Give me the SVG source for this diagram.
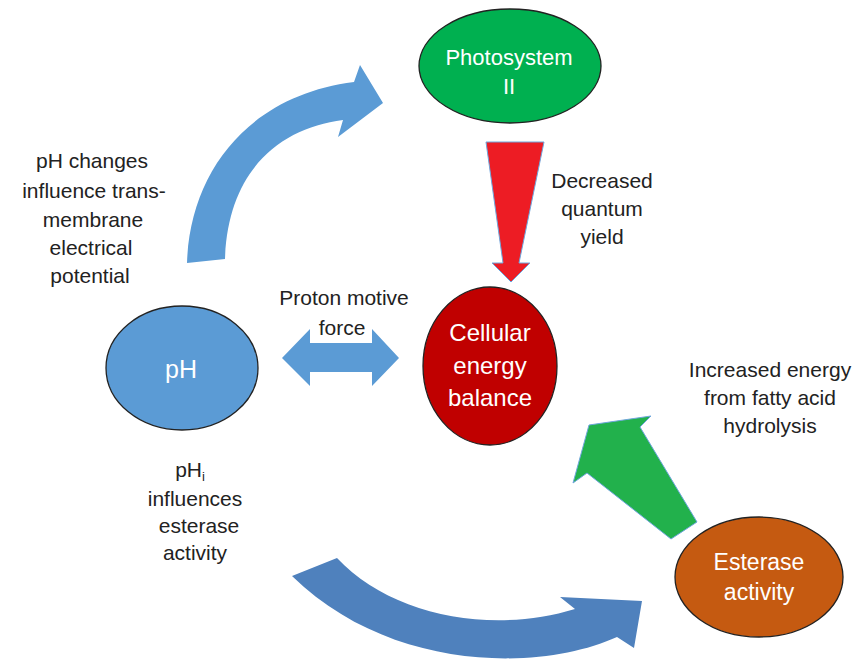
<svg xmlns="http://www.w3.org/2000/svg" width="862" height="659" viewBox="0 0 862 659">
<style>
.t{font-family:"Liberation Sans",Arial,sans-serif;font-size:21px;fill:#222;text-anchor:middle}
.w{font-family:"Liberation Sans",Arial,sans-serif;fill:#fff;text-anchor:middle}
.node{stroke:#222;stroke-width:1.3}
.edge{stroke:#6fa6dc;stroke-width:1}
</style>
<rect width="862" height="659" fill="#fff"/>
<g id="connectors">
<path id="arc-top" d="M187,263 C190,170 250,95 354,82 L360,65 L383,103 L338,137 L343,120 C280,128 228,170 225,259 Z" fill="#5b9bd5"/>
<path id="arc-bottom" d="M337,558 C390,615 490,635 575,609 L560,597 L642,601 L634,648 L617,637 C540,672 390,672 292,576 Z" fill="#4f81bd"/>
<polygon id="pmf-arrow" points="282,358 310,329 310,343 372,343 372,329 399,358 372,386 372,372 310,372 310,386" fill="#5b9bd5"/>
<polygon id="red-arrow" class="edge" points="486,142 544,142 519,263 530,263 511,282 492,263 503,263" fill="#ed1c24"/>
<polygon id="green-arrow" class="edge" points="589,425 651,416 640,427 697,522 671,539 587,473 573,483" fill="#22b14c"/>
</g>
<g id="photosystem">
<ellipse class="node" cx="510" cy="66" rx="91" ry="57" fill="#00b050"/>
<text class="w" x="509" y="65" font-size="22">Photosystem</text>
<text class="w" x="509" y="94" font-size="22">II</text>
</g>
<g id="cellular">
<ellipse class="node" cx="490" cy="366" rx="67" ry="79" fill="#c00000"/>
<text class="w" x="490" y="341" font-size="24">Cellular</text>
<text class="w" x="490" y="374" font-size="24">energy</text>
<text class="w" x="490" y="406" font-size="24">balance</text>
</g>
<g id="ph">
<ellipse class="node" cx="182" cy="368" rx="76" ry="62" fill="#5b9bd5"/>
<text class="w" x="181" y="378" font-size="25">pH</text>
</g>
<g id="esterase">
<ellipse class="node" cx="759" cy="577" rx="84" ry="60" fill="#c55a11"/>
<text class="w" x="759" y="570" font-size="23">Esterase</text>
<text class="w" x="759" y="600" font-size="23">activity</text>
</g>
<g id="labels">
<text class="t" x="92" y="168">pH changes</text>
<text class="t" x="94" y="198">influence trans-</text>
<text class="t" x="93" y="227">membrane</text>
<text class="t" x="91" y="255">electrical</text>
<text class="t" x="90" y="283">potential</text>
<text class="t" x="602" y="188">Decreased</text>
<text class="t" x="602" y="216">quantum</text>
<text class="t" x="602" y="244">yield</text>
<text class="t" x="344" y="305">Proton motive</text>
<text class="t" x="342" y="335">force</text>
<text class="t" x="770" y="377">Increased energy</text>
<text class="t" x="770" y="405">from fatty acid</text>
<text class="t" x="770" y="433">hydrolysis</text>
<text class="t" x="190" y="477">pH<tspan font-size="13" dy="4">i</tspan></text>
<text class="t" x="195" y="506">influences</text>
<text class="t" x="199" y="533">esterase</text>
<text class="t" x="195" y="560">activity</text>
</g>
</svg>
